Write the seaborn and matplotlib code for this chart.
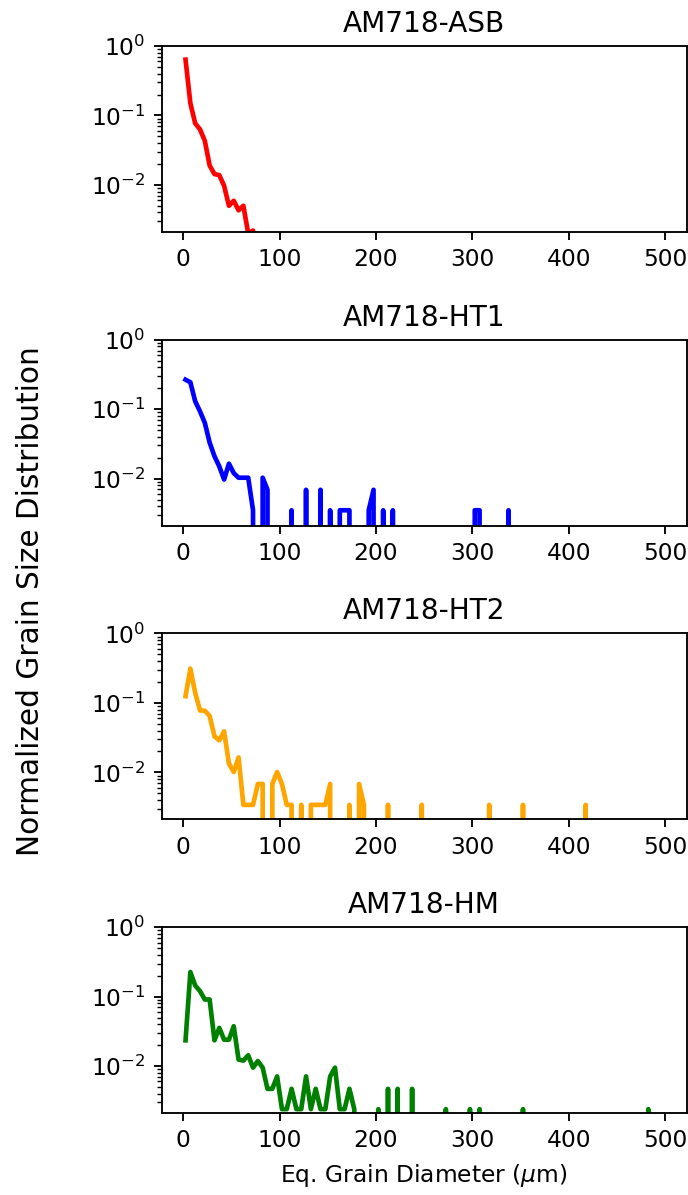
import numpy as np
import pandas as pd
import matplotlib
matplotlib.use("Agg")
import matplotlib.pyplot as plt
import seaborn as sns

# Bin centres (um) of the grain-size histogram, 5 um bins from 0 to 500
bin_centers = np.arange(2.5, 500, 5)

titles = ["AM718-ASB", "AM718-HT1", "AM718-HT2", "AM718-HM"]
colors = ["red", "blue", "orange", "green"]

# nonzero bins: (bin centre, normalized frequency)
asb_x = [2.5, 7.5, 12.5, 17.5, 22.5, 27.5, 32.5, 37.5, 42.5, 47.5, 52.5, 57.5, 62.5, 67.5, 72.5]
asb_y = [0.636, 0.15, 0.077, 0.063, 0.043, 0.019, 0.0143, 0.0138, 0.0097, 0.005, 0.0059, 0.0043, 0.005, 0.0020, 0.0022]

ht1_x = [2.5, 7.5, 12.5, 17.5, 22.5, 27.5, 32.5, 37.5, 42.5, 47.5, 52.5, 57.5, 62.5, 67.5, 72.5,
         82.5, 87.5, 112.5, 127.5, 142.5, 152.5, 162.5, 167.5, 172.5, 192.5, 197.5, 207.5, 217.5,
         302.5, 307.5, 337.5]
ht1_y = [0.266, 0.244, 0.130, 0.093, 0.0635, 0.033, 0.021, 0.015, 0.0097, 0.0164, 0.012, 0.0103, 0.0103, 0.0103, 0.0035,
         0.0103, 0.0069, 0.0035, 0.0069, 0.0069, 0.0035, 0.0035, 0.0035, 0.0035, 0.0035, 0.0069, 0.0035, 0.0035,
         0.0035, 0.0035, 0.0035]

ht2_x = [2.5, 7.5, 12.5, 17.5, 22.5, 27.5, 32.5, 37.5, 42.5, 47.5, 52.5, 57.5, 62.5, 67.5, 72.5, 77.5, 82.5,
         92.5, 97.5, 102.5, 107.5, 112.5, 122.5, 132.5, 137.5, 142.5, 147.5, 152.5, 172.5, 182.5, 187.5,
         212.5, 247.5, 317.5, 352.5, 417.5]
ht2_y = [0.125, 0.312, 0.14, 0.078, 0.077, 0.065, 0.033, 0.029, 0.039, 0.0134, 0.0101, 0.0164, 0.0034, 0.0034, 0.0034, 0.0068, 0.0068,
         0.0068, 0.0101, 0.0068, 0.0034, 0.0034, 0.0034, 0.0034, 0.0034, 0.0034, 0.0034, 0.0068, 0.0034, 0.0068, 0.0034,
         0.0034, 0.0034, 0.0034, 0.0034, 0.0034]

hm_x = [2.5, 7.5, 12.5, 17.5, 22.5, 27.5, 32.5, 37.5, 42.5, 47.5, 52.5, 57.5, 62.5, 67.5, 72.5, 77.5, 82.5,
        87.5, 92.5, 97.5, 102.5, 107.5, 112.5, 117.5, 122.5, 127.5, 132.5, 137.5, 142.5, 147.5, 152.5, 157.5,
        162.5, 167.5, 172.5, 177.5, 202.5, 212.5, 222.5, 237.5, 272.5, 297.5, 307.5, 352.5, 482.5]
hm_y = [0.0235, 0.226, 0.145, 0.120, 0.091, 0.091, 0.0235, 0.0355, 0.024, 0.024, 0.0375, 0.0124, 0.012, 0.0143, 0.0095, 0.0118, 0.0095,
        0.0047, 0.0047, 0.0071, 0.0024, 0.0024, 0.0047, 0.0024, 0.0024, 0.0071, 0.0024, 0.0047, 0.0024, 0.0024, 0.0071, 0.0095,
        0.0024, 0.0024, 0.0047, 0.0024, 0.0024, 0.0047, 0.0047, 0.0047, 0.0024, 0.0024, 0.0024, 0.0024, 0.0024]

series = [(asb_x, asb_y), (ht1_x, ht1_y), (ht2_x, ht2_y), (hm_x, hm_y)]

DPI = 168
fig, axes = plt.subplots(4, 1, figsize=(688 / DPI, 1195 / DPI), dpi=DPI)
fig.subplots_adjust(left=0.235, right=0.998, top=0.9615, bottom=0.0685, hspace=0.58)

for ax, (sx, sy), title, color in zip(axes, series, titles, colors):
    full = np.zeros(len(bin_centers))
    idx = np.searchsorted(bin_centers, sx)
    full[idx] = sy
    df = pd.DataFrame({"d": bin_centers, "f": full})
    sns.lineplot(data=df, x="d", y="f", ax=ax, color=color, linewidth=2, estimator=None)
    ax.set_yscale("log")
    ax.set_ylim(2.1e-3, 1)
    ax.set_xticks([0, 100, 200, 300, 400, 500])
    ax.set_title(title)
    ax.set_xlabel("")
    ax.set_ylabel("")

axes[-1].set_xlabel(r"Eq. Grain Diameter ($\mu$m)")
fig.text(0.044, 0.497, "Normalized Grain Size Distribution", rotation=90,
         ha="center", va="center", fontsize=12.7)

fig.savefig("out.png", dpi=DPI)
